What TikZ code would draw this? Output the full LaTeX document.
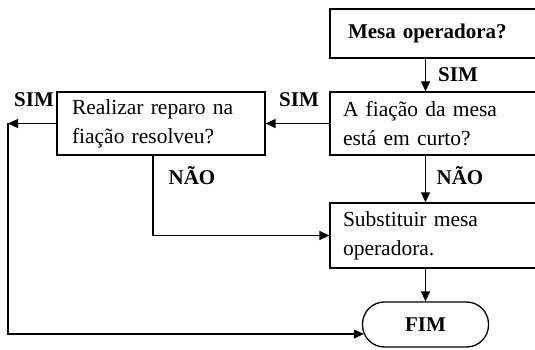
\documentclass[tikz,border=0pt]{standalone}
\usepackage{fontspec}
\setmainfont{Liberation Serif}
\usetikzlibrary{arrows.meta}
\begin{document}
\begin{tikzpicture}[
				x=1pt, y=-1pt,
				box/.style={rectangle, draw=black, line width=1.3pt, align=left, inner xsep=13pt, font=\fontsize{21.5}{29}\selectfont},
				endbox/.style={rectangle, rounded corners=22pt, draw=black, line width=1.3pt, minimum width=126pt, minimum height=45pt, font=\fontsize{21}{25}\selectfont\bfseries},
				answer/.style={inner sep=0pt, font=\fontsize{21}{25}\selectfont\bfseries},
				arr/.style={line width=1.3pt, -{Triangle[length=10pt,width=9pt]}}
				]
			\clip (0,0) rectangle (535,350);
			% caixas
			\node [box, inner xsep=18pt, text width=179pt, minimum height=49pt, font=\fontsize{21}{25}\selectfont\bfseries] (mesa) at (437.5,33.5) {Mesa operadora?};
			\node [box, text width=189pt, minimum height=63pt] (curto) at (437.5,123.5) {A fiação da mesa\\está em curto?};
			\node [box, inner xsep=15pt, text width=178pt, minimum height=63pt] (reparo) at (161,123.5) {Realizar reparo na\\fiação resolveu?};
			\node [box, text width=189pt, minimum height=65pt] (subst) at (437.5,235.5) {Substituir mesa\\operadora.};
			\node [endbox] (fim) at (425.5,324.5) {FIM};
			% pontos livres
			\coordinate (volta) at (8,123.5);
			\coordinate (baixo) at (8,334);
			% ligacoes
			\draw [arr] (mesa.south -| fim) -- (curto.north -| fim);
			\draw [arr] (curto.west) -- (reparo.east);
			\draw [arr] (curto.south -| fim) -- (subst.north -| fim);
			\draw [arr] (subst.south -| fim) -- (fim.north);
			\draw [arr] (reparo.west) -- (volta);
			\draw [arr] (volta) -- (baixo) -- ([xshift=2pt]baixo -| fim.west);
			\draw [arr] ([xshift=-8pt]reparo.south) |- (subst.west);
			% respostas
			\node [answer] (sim1) at (458,75) {SIM};
			\node [answer] (sim2) at (299,100) {SIM};
			\node [answer] (sim3) at (34,100) {SIM};
			\node [answer] (nao1) at (192,176) {NÃO};
			\node [answer] (nao2) at (460,176) {NÃO};
\end{tikzpicture}
\end{document}
